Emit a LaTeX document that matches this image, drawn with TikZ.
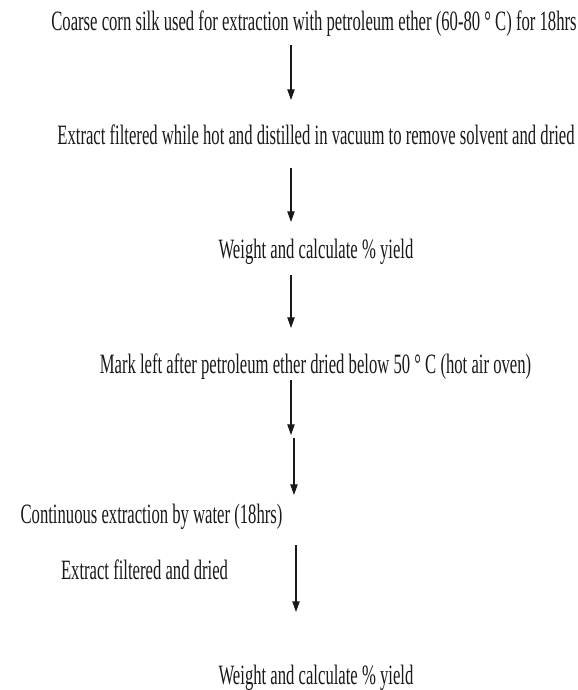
\documentclass[tikz,border=0pt]{standalone}
\usepackage{fontspec}
\setmainfont[FakeStretch=0.595]{Liberation Serif}
\usetikzlibrary{arrows.meta}

\begin{document}
\begin{tikzpicture}[x=0.75pt,y=-0.75pt,font=\fontsize{21}{23}\selectfont,
  >={Triangle[length=8pt,width=5.5pt]},
  stepnode/.style={inner sep=0pt,anchor=base,text=black!90},
  flow/.style={->,line width=0.8pt,black!90}]
\useasboundingbox (0,0) rectangle (578,690);
% process steps (placed on their baselines)
\node[stepnode] (coarse) at (314,30) {Coarse corn silk used for extraction with petroleum ether (60-80 ° C) for 18hrs};
\node[stepnode] (filtered) at (316,144) {Extract filtered while hot and distilled in vacuum to remove solvent and dried};
\node[stepnode] (yieldA) at (316,258) {Weight and calculate \% yield};
\node[stepnode] (mark) at (315.5,373) {Mark left after petroleum ether dried below 50 ° C (hot air oven)};
\node[stepnode] (water) at (151.5,523) {Continuous extraction by water (18hrs)};
\node[stepnode] (dried) at (144.5,579) {Extract filtered and dried};
\node[stepnode] (yieldB) at (316,684) {Weight and calculate \% yield};
% arrow ends
\foreach \n/\x/\ya/\yb in {1/291/45/100, 2/291/168/222, 3/291/275/328,
  4/291/380/435, 5/294/438/495, 6/296/545/612}{
  \coordinate (s\n) at (\x,\ya);
  \coordinate (e\n) at (\x,\yb);
}
\foreach \n in {1,...,6}
  \draw[flow] (s\n) -- (e\n);
\end{tikzpicture}
\end{document}
